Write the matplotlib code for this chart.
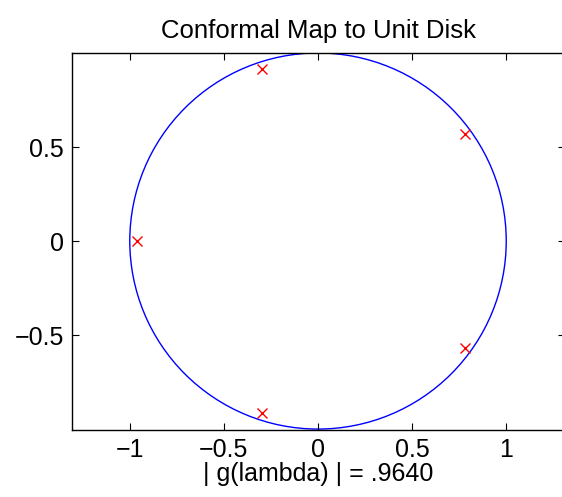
#!/usr/bin/env python3
"""Conformal map of a pentagon's vertices onto the unit disk."""

import matplotlib

matplotlib.use("Agg")
import matplotlib.pyplot as plt
from matplotlib.patches import Circle

# mapped prevertices
pts_x = [-0.964, -0.298, 0.780, 0.780, -0.298]
pts_y = [0.000, 0.917, 0.567, -0.567, -0.917]

disk_radius = 1.0
x_ticks = [-1, -0.5, 0, 0.5, 1]
y_ticks = [-0.5, 0, 0.5]
x_tick_labels = ["\u22121", "\u22120.5", "0", "0.5", "1"]
y_tick_labels = ["\u22120.5", "0", "0.5"]

plt.rcParams["font.family"] = ["Liberation Sans", "DejaVu Sans"]

fig = plt.figure(figsize=(5.62, 4.97), dpi=100)
ax = fig.add_axes([0.1281, 0.1348, 0.8765, 0.7586])

ax.add_patch(Circle((0, 0), disk_radius, fill=False, edgecolor="#0000ff", linewidth=1.0))
ax.plot(pts_x, pts_y, linestyle="none", marker="x", color="#ff0000",
        markersize=7.5, markeredgewidth=1.0)

ax.set_xlim(-1.307, 1.31)
ax.set_ylim(-1.005, 1.0)
ax.set_xticks(x_ticks)
ax.set_xticklabels(x_tick_labels)
ax.set_yticks(y_ticks)
ax.set_yticklabels(y_tick_labels)
ax.tick_params(direction="in", length=5, width=0.8, labelsize=18,
               top=True, right=True, pad=6)
for spine in ax.spines.values():
    spine.set_linewidth(1.0)

ax.set_title("Conformal Map to Unit Disk", fontsize=18.5, pad=11)
ax.set_xlabel("| g(lambda) | = .9640", fontsize=18, labelpad=0)

fig.savefig("out.png", dpi=100)
